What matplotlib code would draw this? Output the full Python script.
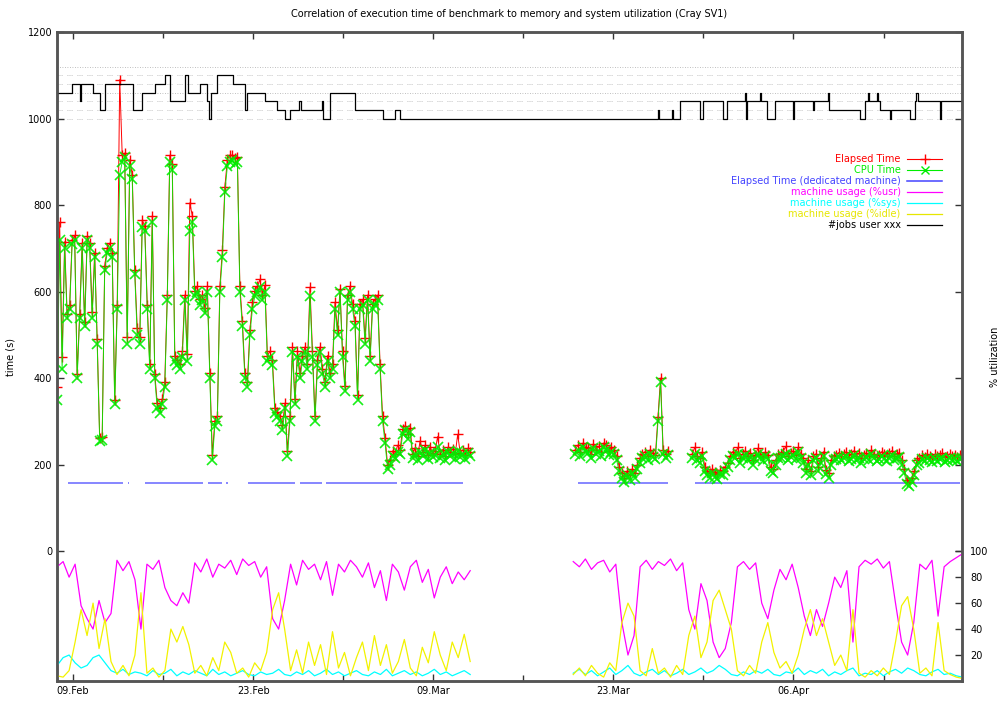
# Benchmark timings vs. machine utilisation on the Cray SV1 (gnuplot style)
import numpy as np
import matplotlib.pyplot as plt
from matplotlib.lines import Line2D

# x axis: days counted from 09.Feb
x_ticks = [0, 14, 28, 42, 56]
x_labels = ['09.Feb', '23.Feb', '09.Mar', '23.Mar', '06.Apr']
x_minor = [7, 21, 35, 49, 63]

# measured periods (start day, end day)
cpu_spans = [(-1.24, 30.87), (39.04, 46.27), (48.13, 69.13)]
util_spans = [(-1.24, 30.87), (38.88, 69.13)]

# CPU time (s)
cpu_feb = [350, 720, 420, 700, 540, 560, 710, 720, 400, 540, 700, 520, 720, 700, 540,
           680, 480, 255, 258, 650, 690, 700, 680, 340, 560, 870, 900, 910, 480, 890,
           860, 640, 500, 480, 750, 740, 560, 420, 760, 400, 330, 320, 340, 380,
           580, 900, 880, 440, 430, 420, 450, 580, 440, 740, 760,
           590, 600, 570, 580, 550, 600, 400, 210, 290, 300, 600, 680, 830, 890, 900,
           905, 895, 900, 600, 520, 400, 380, 500, 560, 590, 600, 610, 580,
           600, 440, 450, 430, 320, 310, 300, 280, 330, 220, 300, 460, 340, 450,
           400, 440, 460, 420, 590, 450, 300, 430, 460, 410, 380, 440, 400,
           420, 560, 500, 600, 450, 370, 580, 600, 560, 520, 350,
           560, 570, 480, 580, 440, 560, 570, 580, 420, 300, 250, 190, 200,
           220, 215, 230, 225, 270, 280, 260, 275,
           215, 225, 210, 230, 220, 235, 212, 228, 218, 222, 240, 215,
           225, 210, 230, 220, 226, 214, 232, 218, 224, 212, 228, 220]
cpu_mar = [225, 235, 220, 240, 230, 228, 215, 238, 225, 232, 220, 240, 235, 222, 230, 225,
           210, 185, 170, 160, 175, 165, 180, 170, 190, 205,
           215, 220, 210, 225, 218, 212, 300, 390, 225, 215, 222]
cpu_apr = [215, 225, 210, 205, 220,
           185, 175, 170, 180, 172, 168, 178, 175, 185, 195,
           210, 220, 215, 225, 205, 215, 222, 210, 218, 200, 212, 225, 215, 208, 220, 212,
           185, 180, 200, 215,
           215, 220, 225, 210, 218, 222, 212, 230, 215, 205,
           180, 200, 175, 210, 215, 185, 205, 220, 178, 170, 200, 210,
           212, 218, 210, 215, 220, 208, 214, 222, 210, 216, 205, 212, 218,
           210, 224, 215, 208, 212, 220, 214, 209, 216, 222, 211, 215, 218,
           200, 180, 155, 150, 160, 175, 200,
           205, 212, 208, 215, 210, 206, 214, 209, 212, 216, 207, 211, 215, 210, 213, 208, 212, 215]

# elapsed time (s)
el_feb = [380, 760, 450, 715, 548, 570, 720, 730, 410, 548, 712, 530, 728, 712, 552,
          690, 490, 262, 265, 660, 700, 712, 690, 350, 570, 1090, 915, 920, 495, 905,
          870, 650, 515, 495, 765, 752, 570, 432, 775, 410, 342, 330, 352, 392,
          592, 915, 895, 452, 442, 432, 462, 592, 455, 805, 775,
          602, 612, 582, 592, 562, 612, 412, 222, 302, 312, 612, 695, 842, 905, 915,
          915, 908, 912, 612, 532, 412, 392, 512, 575, 602, 612, 628, 592,
          615, 452, 462, 442, 332, 322, 312, 292, 342, 232, 312, 472, 352, 462,
          412, 452, 472, 432, 610, 462, 312, 442, 472, 422, 392, 452, 412,
          432, 575, 512, 605, 462, 382, 592, 612, 572, 532, 362,
          572, 582, 492, 592, 452, 572, 582, 592, 432, 312, 262, 200, 210,
          232, 225, 245, 235, 282, 290, 272, 285,
          225, 238, 220, 255, 230, 245, 222, 240, 228, 232, 265, 225,
          235, 220, 240, 230, 236, 224, 270, 228, 234, 222, 238, 230]
el_mar = [235, 245, 230, 250, 240, 238, 225, 248, 235, 242, 230, 250, 245, 232, 240, 235,
          220, 195, 180, 170, 185, 175, 190, 180, 200, 215,
          225, 230, 220, 235, 228, 222, 310, 400, 235, 225, 232]
el_apr = [225, 240, 220, 215, 230,
          195, 185, 180, 190, 182, 178, 188, 185, 195, 205,
          220, 230, 225, 240, 215, 225, 232, 220, 228, 210, 222, 238, 225, 218, 230, 222,
          195, 190, 210, 225,
          225, 230, 242, 220, 228, 232, 222, 240, 225, 215,
          190, 210, 185, 220, 225, 195, 215, 230, 188, 180, 210, 220,
          222, 228, 220, 225, 230, 218, 224, 232, 220, 226, 215, 222, 228,
          220, 234, 225, 218, 222, 230, 224, 219, 226, 232, 221, 225, 228,
          210, 190, 165, 160, 170, 185, 210,
          215, 222, 218, 225, 220, 216, 224, 219, 222, 226, 217, 221, 225, 220, 223, 218, 222, 225]

# elapsed time on a dedicated machine
ded_time = 157
ded_start = [-0.39, 4.28, 5.60, 10.50, 11.90, 13.61, 17.65, 19.67, 25.51, 26.59, 39.27, 48.37]
ded_end = [3.89, 4.35, 10.11, 11.59, 12.05, 17.26, 19.36, 25.19, 26.36, 30.33, 46.27, 68.97]

# machine usage (%)
usr_1 = [88, 92, 80, 90, 58, 48, 40, 62, 45, 52, 93, 85, 92, 78, 40, 90, 86, 93, 72, 62,
         58, 68, 60, 91, 84, 94, 80, 90, 87, 93, 82, 94, 89, 92, 80, 88, 48, 40, 62, 90,
         74, 93, 86, 90, 78, 92, 66, 90, 84, 93, 88, 80, 91, 72, 85, 62, 90, 84, 70, 88,
         93, 76, 86, 64, 80, 88, 75, 84, 78, 85]
idle_1 = [4, 3, 8, 30, 55, 35, 60, 25, 48, 15, 5, 12, 4, 20, 68, 6, 10, 3, 8, 40,
          30, 42, 28, 6, 12, 4, 18, 8, 30, 22, 6, 10, 3, 14, 8, 22, 55, 68, 40, 8,
          24, 6, 30, 12, 28, 5, 38, 10, 22, 4, 18, 30, 8, 35, 12, 28, 6, 15, 32, 10,
          4, 26, 14, 38, 20, 8, 30, 18, 36, 15]
sys_1 = [12, 18, 20, 14, 10, 12, 18, 20, 14, 8, 6, 9, 5, 7, 6, 4, 8, 5, 6, 9,
         4, 7, 5, 8, 6, 4, 9, 5, 7, 4, 6, 8, 5, 4, 7, 5, 6, 9, 5, 4,
         7, 5, 8, 4, 6, 9, 5, 7, 4, 6, 8, 5, 4, 7, 5, 9, 4, 6, 8, 5,
         7, 4, 6, 9, 5, 7, 4, 6, 8, 5]
usr_2 = [92, 88, 94, 86, 91, 93, 84, 90, 45, 20, 35, 88, 93, 86, 92, 89, 94, 85, 91, 55,
         40, 75, 62, 30, 18, 25, 45, 88, 92, 86, 91, 60, 48, 70, 86, 78, 90, 72, 50, 35,
         55, 42, 60, 80, 72, 85, 30, 88, 93, 90, 94, 87, 92, 60, 30, 20, 45, 90, 86, 93,
         50, 88, 92, 95, 98]
idle_2 = [5, 10, 4, 12, 6, 3, 14, 8, 45, 60, 50, 8, 4, 25, 6, 10, 3, 12, 5, 35,
          50, 18, 30, 62, 70, 55, 40, 8, 4, 12, 6, 30, 45, 22, 10, 15, 6, 20, 40, 55,
          35, 48, 30, 12, 20, 8, 55, 6, 3, 8, 4, 10, 5, 30, 58, 65, 40, 6, 10, 4,
          45, 8, 5, 3, 2]
sys_2 = [6, 9, 5, 8, 4, 7, 10, 5, 8, 12, 6, 4, 7, 9, 5, 8, 4, 6, 9, 5,
         7, 10, 6, 8, 12, 9, 5, 4, 7, 5, 8, 6, 9, 5, 4, 7, 6, 10, 5, 8,
         6, 9, 4, 7, 5, 8, 10, 4, 6, 5, 8, 4, 7, 9, 6, 10, 8, 5, 4, 7,
         9, 5, 6, 4, 3]

# number of jobs of user xxx (drawn in the time axis units, 20 s per job)
jobs_t = [-1.25, -0.08, 0.50, 0.60, 1.56, 2.10, 2.49, 4.67, 5.37, 6.38, 7.15, 7.54,
          8.71, 8.90, 9.88, 10.42, 10.60, 10.70, 11.20, 12.44, 13.37, 13.50, 14.93,
          15.86, 16.49, 16.87, 17.60, 17.70, 19.36, 19.45, 19.98, 21.93, 24.11, 25.04,
          25.43, 45.49, 45.55, 46.58, 46.65, 47.20, 48.76, 48.99, 50.54, 50.86, 52.26,
          52.32, 52.41, 53.42, 53.50, 53.97, 54.59, 55.99, 56.05, 57.54, 57.60, 58.71,
          58.80, 61.20, 61.59, 61.80, 61.90, 62.50, 62.60, 62.75, 63.53, 63.60, 65.09,
          65.47, 65.55, 65.65, 67.42, 67.50, 69.13]
jobs_level = [1060, 1080, 1040, 1080, 1060, 1020, 1080, 1020, 1060, 1080, 1100, 1040,
              1100, 1060, 1080, 1040, 1000, 1060, 1100, 1080, 1020, 1060, 1040,
              1020, 1000, 1020, 1040, 1020, 1040, 1000, 1060, 1020, 1000, 1020,
              1000, 1020, 1000, 1020, 1000, 1040, 1000, 1040, 1000, 1040, 1060,
              1000, 1040, 1060, 1040, 1000, 1040, 1000, 1040, 1020, 1040, 1060,
              1020, 1000, 1040, 1060, 1040, 1060, 1040, 1020, 1000, 1020, 1000,
              1040, 1060, 1040, 1000, 1040, 1040]

plt.rcParams['font.family'] = 'DejaVu Sans'
fig = plt.figure(figsize=(10.02, 7.02), dpi=100)
ax = fig.add_axes([57 / 1002, 21 / 702, 905 / 1002, 649 / 702])
ax2 = ax.twinx()

# faint grid behind the jobs curve
for lvl in [1060, 1120]:
    ax.axhline(lvl, color='#aaaaaa', lw=0.6, ls=(0, (1, 2)), zorder=1)
for lvl in [1000, 1020, 1040, 1080, 1100]:
    ax.axhline(lvl, color='#aaaaaa', lw=0.6, ls=(0, (1, 1.5, 1, 1.5, 1, 6)), zorder=1)

cpu_sets = [cpu_feb, cpu_mar, cpu_apr]
el_sets = [el_feb, el_mar, el_apr]
for (t0, t1), el in zip(cpu_spans, el_sets):
    ax.plot(np.linspace(t0, t1, len(el)), el, color='red', lw=0.7,
            marker='+', ms=7, mew=1.0, zorder=3)
for (t0, t1), cpu in zip(cpu_spans, cpu_sets):
    ax.plot(np.linspace(t0, t1, len(cpu)), cpu, color='#00ee00', lw=0.7, alpha=0.9,
            marker='x', ms=6.5, mew=1.2, zorder=4)
ax.hlines([ded_time] * len(ded_start), ded_start, ded_end, color='#6666ff', lw=1.1, zorder=2)
ax.plot(jobs_t, jobs_level, drawstyle='steps-post', color='black', lw=0.9, zorder=5)

for (t0, t1), u, s, i in zip(util_spans, [usr_1, usr_2], [sys_1, sys_2], [idle_1, idle_2]):
    tt = np.linspace(t0, t1, len(u))
    ax2.plot(tt, u, color='magenta', lw=0.9)
    ax2.plot(tt, s, color='cyan', lw=0.9)
    ax2.plot(tt, i, color='#f2f200', lw=0.9)

ax.set_xlim(-1.25, 69.1)
ax.set_ylim(-300, 1200)
ax2.set_ylim(0, 500)
ax.set_xticks(x_ticks)
ax.set_xticklabels(x_labels)
ax.set_xticks(x_minor, minor=True)
ax.set_yticks(range(0, 1201, 200))
ax2.set_yticks([20, 40, 60, 80, 100])

ax.tick_params(axis='both', which='both', direction='in', top=True, right=True,
               labelsize=7, length=5, width=1, color='#333333')
ax.tick_params(axis='x', which='minor', length=4)
ax2.tick_params(axis='y', direction='in', labelsize=7, length=5, width=1,
                color='#333333', pad=6)
for a in (ax, ax2):
    for sp in a.spines.values():
        sp.set_color('#555555')
        sp.set_linewidth(1.8)

ax.set_ylabel('time (s)', fontsize=7)
ax.yaxis.set_label_coords(-0.046, 0.5)
ax2.set_ylabel('% utilization', fontsize=7)
ax2.yaxis.set_label_coords(1.031, 0.5)
ax.set_title('Correlation of execution time of benchmark to memory and system utilization (Cray SV1)',
             fontsize=7, pad=11)

handles = [
    Line2D([], [], color='red', lw=0.8, marker='+', ms=7),
    Line2D([], [], color='#00ee00', lw=0.8, marker='x', ms=6),
    Line2D([], [], color='#4444ff', lw=1.1),
    Line2D([], [], color='magenta', lw=0.9),
    Line2D([], [], color='cyan', lw=0.9),
    Line2D([], [], color='#e6e600', lw=0.9),
    Line2D([], [], color='black', lw=0.9),
]
labels = ['Elapsed Time', 'CPU Time', 'Elapsed Time (dedicated machine)',
          'machine usage (%usr)', 'machine usage (%sys)', 'machine usage (%idle)',
          '#jobs user xxx']
leg = ax2.legend(handles, labels, loc='upper right', bbox_to_anchor=(0.988, 0.825),
                 frameon=False, fontsize=7, markerfirst=False, handlelength=3.6,
                 handletextpad=0.7, labelspacing=0.1, numpoints=1, labelcolor='linecolor')

fig.savefig('out.png', dpi=100)
